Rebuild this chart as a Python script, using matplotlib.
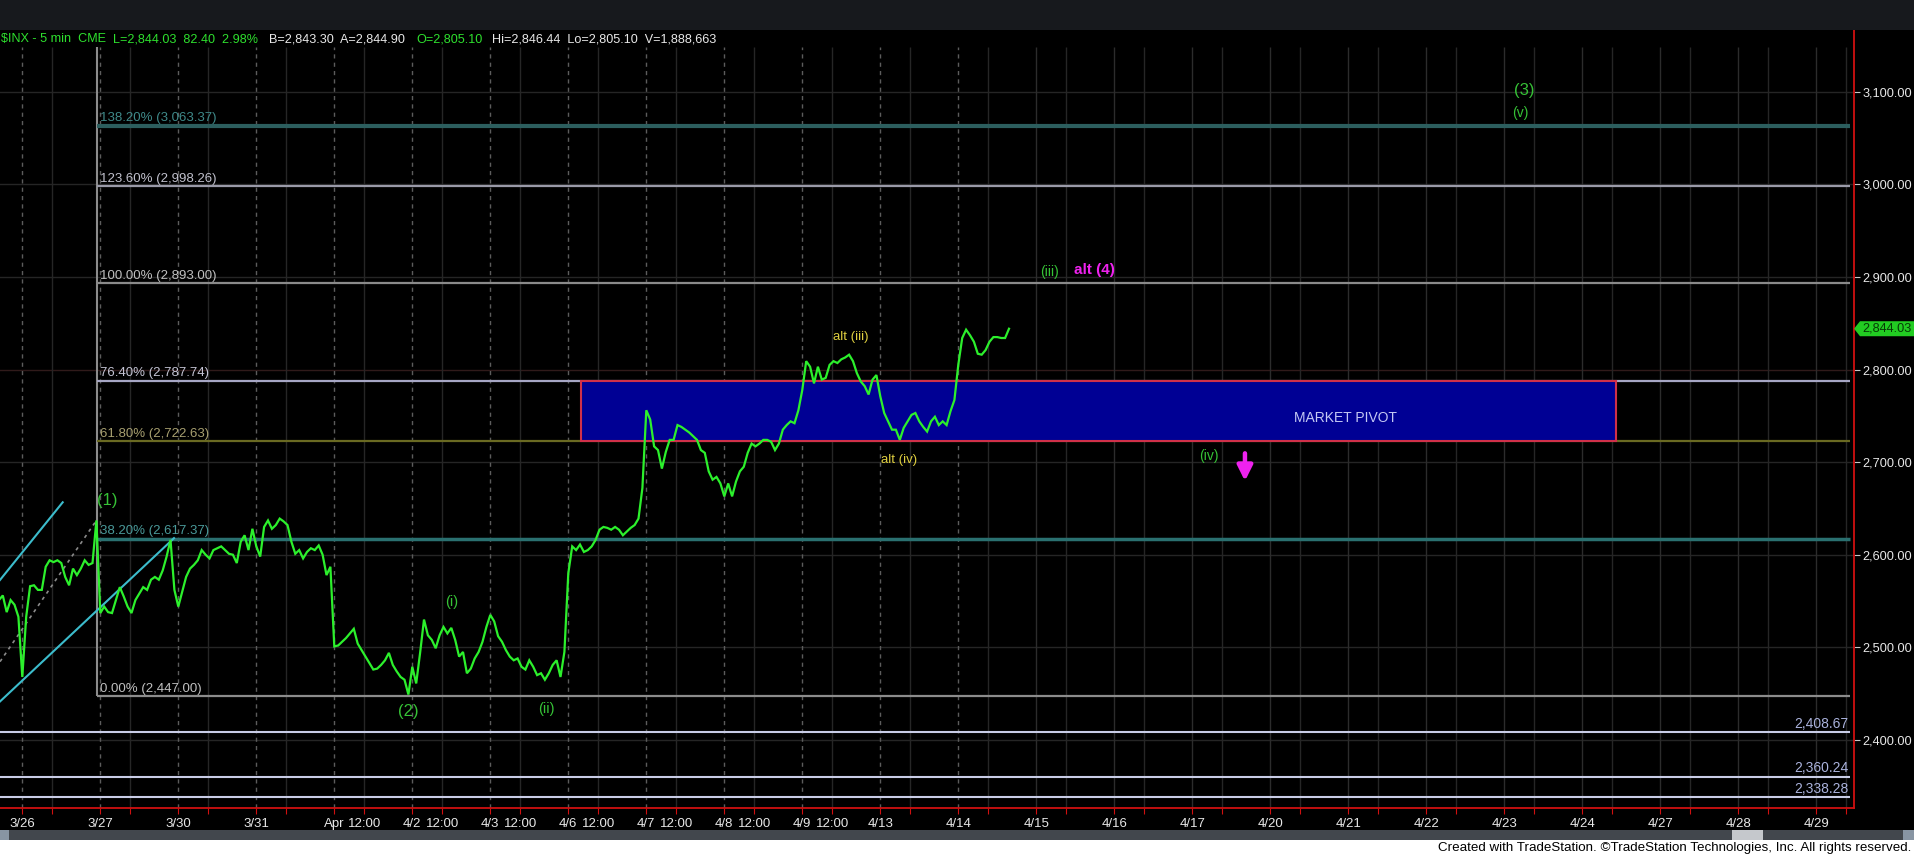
import matplotlib
matplotlib.use('Agg')
import matplotlib.pyplot as plt
from matplotlib.patches import Rectangle, Polygon
from matplotlib.transforms import blended_transform_factory
import numpy as np

plt.rcParams['font.family'] = ['Liberation Sans', 'DejaVu Sans']

# ---------------- data ----------------
session_labels = ['3/26', '3/27', '3/30', '3/31', 'Apr', '4/2', '4/3', '4/6', '4/7', '4/8',
                  '4/9', '4/13', '4/14', '4/15', '4/16', '4/17', '4/20', '4/21', '4/22',
                  '4/23', '4/24', '4/27', '4/28', '4/29']
midday_labeled = ['Apr', '4/2', '4/3', '4/6', '4/7', '4/8', '4/9']
samples_per_session = 20

close_0325_tail = [2551, 2556, 2538, 2551, 2546, 2533]          # last samples of 3/25
close_0326 = [2468, 2533, 2566, 2567, 2562, 2562, 2587, 2594, 2592, 2594,
              2591, 2576, 2567, 2585, 2578, 2585, 2594, 2589, 2591, 2637]
close_0327 = [2537, 2544, 2538, 2537, 2551, 2565, 2555, 2544, 2537, 2551,
              2558, 2565, 2562, 2573, 2576, 2573, 2583, 2598, 2616, 2562]
close_0330 = [2544, 2560, 2576, 2585, 2589, 2594, 2605, 2600, 2596, 2605,
              2607, 2609, 2605, 2601, 2600, 2591, 2614, 2621, 2605, 2628]
close_0331 = [2609, 2598, 2630, 2637, 2628, 2632, 2639, 2636, 2632, 2614,
              2601, 2605, 2596, 2603, 2607, 2605, 2610, 2600, 2578, 2587]
close_0401 = [2501, 2502, 2506, 2510, 2515, 2520, 2504, 2497, 2490, 2483,
              2476, 2477, 2481, 2486, 2494, 2481, 2474, 2468, 2465, 2449]
close_0402 = [2479, 2461, 2494, 2530, 2513, 2508, 2499, 2513, 2522, 2515,
              2521, 2508, 2490, 2495, 2472, 2477, 2488, 2495, 2506, 2522]
close_0403 = [2535, 2528, 2512, 2506, 2497, 2490, 2486, 2488, 2479, 2476,
              2486, 2479, 2470, 2472, 2465, 2472, 2481, 2486, 2468, 2495]
close_0406 = [2580, 2609, 2605, 2611, 2603, 2605, 2609, 2616, 2627, 2630,
              2629, 2627, 2630, 2627, 2621, 2625, 2629, 2632, 2639, 2672]
close_0407 = [2756, 2746, 2717, 2713, 2693, 2711, 2724, 2724, 2740, 2738,
              2735, 2732, 2728, 2724, 2713, 2710, 2690, 2681, 2684, 2677]
close_0408 = [2663, 2677, 2663, 2679, 2690, 2695, 2710, 2720, 2717, 2720,
              2724, 2724, 2722, 2713, 2720, 2735, 2740, 2744, 2742, 2756]
close_0409 = [2778, 2809, 2803, 2785, 2803, 2789, 2791, 2805, 2809, 2807,
              2811, 2813, 2816, 2809, 2796, 2787, 2782, 2773, 2789, 2794]
close_0413 = [2771, 2753, 2744, 2735, 2735, 2724, 2737, 2744, 2751, 2753,
              2744, 2738, 2733, 2744, 2749, 2740, 2744, 2740, 2755, 2767]
close_0414 = [2805.10, 2834, 2843, 2837, 2830, 2817, 2816, 2821, 2830, 2835,
              2835, 2834, 2834, 2844.03]

fib_pcts = ['138.20%', '123.60%', '100.00%', '76.40%', '61.80%', '38.20%', '0.00%']
fib_vals = [3063.37, 2998.26, 2893.00, 2787.74, 2722.63, 2617.37, 2447.00]
support_vals = [2408.67, 2360.24, 2338.28]
pivot_low, pivot_high = 2722.63, 2787.74
last_price = 2844.03
y_ticks = [2400, 2500, 2600, 2700, 2800, 2900, 3000, 3100]

# ---------------- build series ----------------
pieces = [(-1, 14, close_0325_tail), (0, 0, close_0326), (1, 0, close_0327), (2, 0, close_0330),
          (3, 0, close_0331), (4, 0, close_0401), (5, 0, close_0402), (6, 0, close_0403),
          (7, 0, close_0406), (8, 0, close_0407), (9, 0, close_0408), (10, 0, close_0409),
          (11, 0, close_0413), (12, 0, close_0414)]
xs, ys = [], []
for d, k0, vals in pieces:
    k = np.arange(len(vals)) + k0
    xs.append(d + k / samples_per_session)
    ys.append(np.array(vals, dtype=float))
x_all = np.concatenate(xs)
y_all = np.concatenate(ys)

# ---------------- figure ----------------
W, H = 1914, 856
fig = plt.figure(figsize=(W / 100, H / 100), dpi=100, facecolor='black')
ax = fig.add_axes([0, 48 / H, 1854 / W, 778 / H])
ax.set_facecolor('black')
XL = (-22.3 / 78, (1854 - 22.3) / 78)
YL = (2326.5, 3166.6)
ax.set_xlim(*XL)
ax.set_ylim(*YL)

grid_top = 3148.3
mid = 2.5 / 6.5
n_days = len(session_labels)
# horizontal grid
for v in y_ticks:
    ax.axhline(v, color='#301a1a' if v == 2800 else '#252525', lw=1, zorder=1)
# vertical grid
for d in range(n_days):
    if d <= 12:
        ax.vlines(d, YL[0], grid_top, colors='#5c5c5c', lw=1, linestyles=(0, (3, 3)), zorder=1)
    else:
        ax.vlines(d, YL[0], grid_top, colors='#2c2c2c', lw=1, zorder=1)
    ax.vlines(d + mid, YL[0], grid_top, colors='#262626', lw=1, zorder=1)

# fib tool
fib_x0 = 0.964
fib_x1 = (1850 - 22.3) / 78
fib_line_cols = ['#2c5e5e', '#9a9aa8', '#8a8a8a', '#a6a6c4', '#6a6a22', '#2a7070', '#8c8c8c']
fib_text_cols = ['#3f8a8a', '#c0c0cc', '#c0c0c0', '#c4c4d4', '#a8a070', '#4a9a9a', '#c0c0c0']
fib_lws = [3, 1.6, 1.6, 1.6, 1.6, 2.5, 1.6]
ax.vlines(fib_x0, fib_vals[-1], grid_top, colors='#8c8c8c', lw=1.5, zorder=2)
for p, v, lc, tc, lw in zip(fib_pcts, fib_vals, fib_line_cols, fib_text_cols, fib_lws):
    ax.hlines(v, fib_x0, fib_x1, colors=lc, lw=lw, zorder=2)
    ax.text(fib_x0 + 0.035, v + 1.5, f'{p} ({v:,.2f})', color=tc, fontsize=9.5,
            ha='left', va='bottom', zorder=6)

# support lines
for v in support_vals:
    ax.hlines(v, XL[0], fib_x1, colors='#c8cce6', lw=1.5, zorder=2)
    ax.text(fib_x1 - 0.02, v + 1.5, f'{v:,.2f}', color='#aab2dc', fontsize=10,
            ha='right', va='bottom', zorder=6)

# trend / channel lines
ax.plot([-0.286, 0.518], [2572.7, 2656.6], color='#3cbccc', lw=1.5, zorder=3)
ax.plot([-0.286, 1.945], [2441.5, 2617.9], color='#3cbccc', lw=1.5, zorder=3)
ax.plot([-0.286, 0.954], [2484.5, 2637.5], color='#8a8a8a', lw=1.2,
        linestyle=(0, (2, 2.5)), zorder=3)

# market pivot box
ax.add_patch(Rectangle((7.163, pivot_low), 20.43 - 7.163, pivot_high - pivot_low,
                       facecolor='#000094', edgecolor='#d0304a', lw=1.5, zorder=3))
ax.text(16.964, 2747.6, 'MARKET PIVOT', color='#c4c8f4', fontsize=10,
        ha='center', va='center', zorder=6)

# price
ax.plot(x_all, y_all, color='#2cf02c', lw=1.6, zorder=5, solid_joinstyle='miter')

# wave labels
g = '#36c236'
yel = '#e0d040'
mag = '#ee22ee'
ax.text(1.087, 2659.0, '(1)', color=g, fontsize=12, ha='center', va='center', zorder=6)
ax.text(4.951, 2431.2, '(2)', color=g, fontsize=12, ha='center', va='center', zorder=6)
ax.text(5.503, 2548.9, '(i)', color=g, fontsize=10.5, ha='center', va='center', zorder=6)
ax.text(6.721, 2433.9, '(ii)', color=g, fontsize=10.5, ha='center', va='center', zorder=6)
ax.text(10.624, 2834.6, 'alt (iii)', color=yel, fontsize=9.5, ha='center', va='center', zorder=6)
ax.text(11.24, 2702.3, 'alt (iv)', color=yel, fontsize=9.5, ha='center', va='center', zorder=6)
ax.text(13.175, 2905.3, '(iii)', color=g, fontsize=10, ha='center', va='center', zorder=6)
ax.text(13.746, 2907.5, 'alt (4)', color=mag, fontsize=11, fontweight='bold',
        ha='center', va='center', zorder=6)
ax.text(15.214, 2706.6, '(iv)', color=g, fontsize=10, ha='center', va='center', zorder=6)
ax.text(19.253, 3101.8, '(3)', color=g, fontsize=12, ha='center', va='center', zorder=6)
ax.text(19.201, 3077.3, '(v)', color=g, fontsize=10, ha='center', va='center', zorder=6)
ax.annotate('', xy=(15.675, 2679.6), xytext=(15.675, 2709.5),
            arrowprops=dict(arrowstyle='-|>,head_width=0.45,head_length=0.9',
                            color=mag, lw=3.2, shrinkA=0, shrinkB=0), zorder=6)

# axes styling
for s in ['top', 'left']:
    ax.spines[s].set_visible(False)
for s in ['bottom', 'right']:
    ax.spines[s].set_color('#d01010')
    ax.spines[s].set_linewidth(1.3)
ax.yaxis.tick_right()
ax.set_yticks(y_ticks)
ax.set_yticklabels([f'{v:,.2f}' for v in y_ticks])
ax.tick_params(axis='y', colors='#c8c8c8', labelcolor='#e8e8e8', length=4, pad=2, labelsize=9.2)
xt, xl = [], []
for d, lab in enumerate(session_labels):
    xt.append(d)
    xl.append(lab)
    xt.append(d + mid)
    xl.append('12:00' if lab in midday_labeled else '')
ax.set_xticks(xt)
ax.set_xticklabels(xl)
ax.tick_params(axis='x', colors='#d01010', labelcolor='#e8e8e8', length=4, pad=3, labelsize=9.5)

# last price marker
bt = blended_transform_factory(ax.transAxes, ax.transData)
px = 1 / 1854
hh = 8.1
ax.add_patch(Polygon([(1.0, last_price), (1 + 6 * px, last_price + hh), (1 + 60 * px, last_price + hh),
                      (1 + 60 * px, last_price - hh), (1 + 6 * px, last_price - hh)],
                     closed=True, facecolor='#22cc22', edgecolor='none',
                     transform=bt, clip_on=False, zorder=7))
ax.text(1 + 33 * px, last_price, f'{last_price:,.2f}', transform=bt, color='#063a06',
        fontsize=9.2, ha='center', va='center', clip_on=False, zorder=8)

# header
hdr_y = 1 - 39 / H
hg, hw = '#2ee02e', '#e8e8e8'
segs = [(1, r'\$INX - 5 min  CME', hg), (113, 'L=2,844.03  82.40  2.98%', hg),
        (269, 'B=2,843.30  A=2,844.90', hw), (416, 'O=2,805.10', hg),
        (492, 'Hi=2,846.44  Lo=2,805.10  V=1,888,663', hw)]
for xpx, t, c in segs:
    fig.text(xpx / W, hdr_y, t, color=c, fontsize=9.1, ha='left', va='center')

# chrome: top band, scrollbar, footer
fig.add_artist(Rectangle((0, 1 - 30 / H), 1, 30 / H, transform=fig.transFigure,
                         facecolor='#17191d', edgecolor='none'))
fig.add_artist(Rectangle((0, 16 / H), 1, 10 / H, transform=fig.transFigure,
                         facecolor='#42474d', edgecolor='none'))
fig.add_artist(Rectangle((0, 16 / H), 9 / W, 10 / H, transform=fig.transFigure,
                         facecolor='#8895a3', edgecolor='none'))
fig.add_artist(Rectangle((1903 / W, 16 / H), 11 / W, 10 / H, transform=fig.transFigure,
                         facecolor='#8895a3', edgecolor='none'))
fig.add_artist(Rectangle((1732 / W, 16 / H), 31 / W, 10 / H, transform=fig.transFigure,
                         facecolor='#c5c8cc', edgecolor='none'))
fig.add_artist(Rectangle((0, 0), 1, 16 / H, transform=fig.transFigure,
                         facecolor='white', edgecolor='none'))
fig.text(1911 / W, 8 / H, 'Created with TradeStation. \u00a9TradeStation Technologies, Inc. All rights reserved.',
         color='black', fontsize=9.6, ha='right', va='center')

fig.savefig('out.png', dpi=100, facecolor='black')
